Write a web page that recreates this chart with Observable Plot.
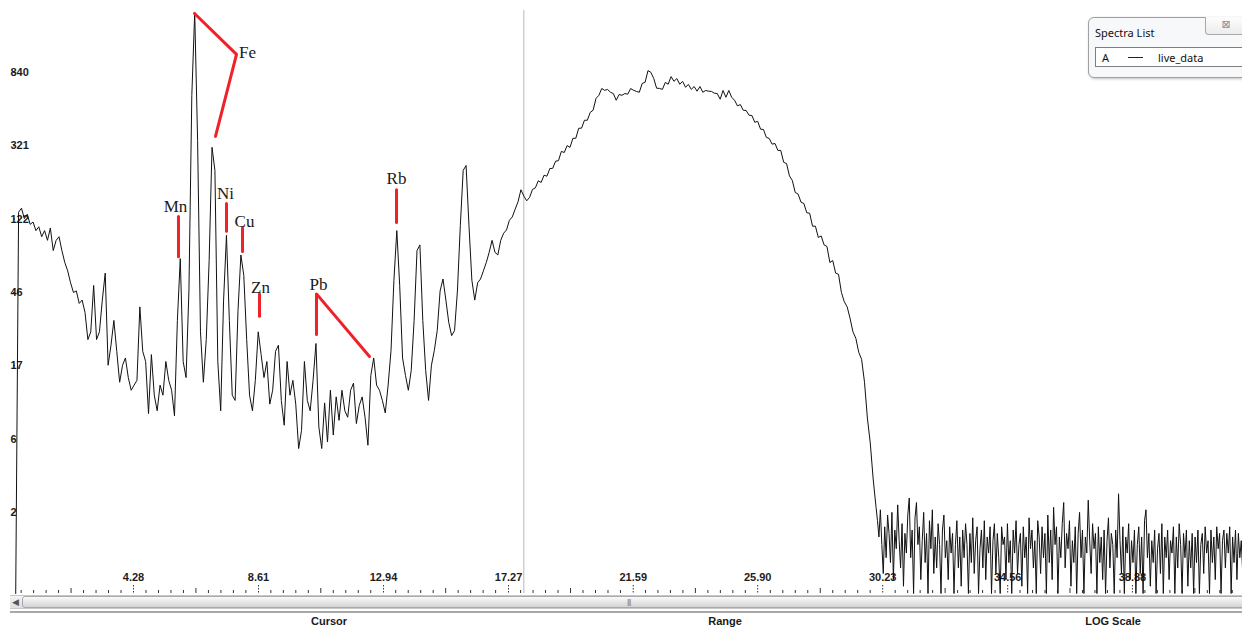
<!DOCTYPE html>
<html>
<head>
<meta charset="utf-8">
<script src="https://cdn.jsdelivr.net/npm/d3@7"></script>
<script src="https://cdn.jsdelivr.net/npm/@observablehq/plot@0.6"></script>
<style>
html,body{margin:0;padding:0;background:#fff;width:1242px;height:628px;overflow:hidden;position:relative;font-family:"Liberation Sans",Arial,sans-serif;}
#chart{position:absolute;left:0;top:0;}
#sbtrack{position:absolute;left:10px;top:595px;width:1232px;height:14px;background:linear-gradient(#f4f4f4,#dedede);border-top:1px solid #c8c8c8;border-bottom:1px solid #c8c8c8;box-sizing:border-box;}
#sbarrow{position:absolute;left:12px;top:596px;font-size:9px;color:#555;line-height:12px;}
#sbthumb{position:absolute;left:22px;top:596px;width:1230px;height:12px;box-sizing:border-box;border:1px solid #a9a9a9;border-radius:3px;background:linear-gradient(#fbfbfb,#e6e6e6 50%,#d4d4d4);}
#sbgrip{position:absolute;left:627px;top:596px;font-size:8px;color:#777;line-height:12px;letter-spacing:-1px;}
#sbline{position:absolute;left:10px;top:611px;width:1232px;height:2px;background:#a8a8a8;}
.status{position:absolute;top:615px;font-weight:bold;font-size:11px;color:#1a1a1a;transform:translateX(-50%);white-space:nowrap;}
#spl{position:absolute;left:1088px;top:17px;width:172px;height:59px;border:1px solid #a0a0a0;border-radius:6px;background:#f7f8fa;box-shadow:1px 1px 3px rgba(0,0,0,0.25);font-family:"Noto Sans",sans-serif;}
#spltitle{position:absolute;left:6px;top:7px;font-size:11px;color:#111;}
#splclose{position:absolute;left:116px;top:-1px;width:40px;height:17px;border:1px solid #a8a8a8;border-top:none;border-radius:0 0 4px 4px;background:linear-gradient(#fdfdfd,#ececec);font-family:"DejaVu Sans",sans-serif;font-size:11px;color:#8a8a8a;text-align:center;line-height:16px;}
#spllist{position:absolute;left:6px;top:29px;width:170px;height:20px;background:#fff;border:1px solid #7e7e7e;box-sizing:border-box;font-size:11px;color:#111;}
#spllist .a{position:absolute;left:6px;top:2px;}
#spllist .dash{position:absolute;left:32px;top:9px;width:15px;height:1px;background:#222;}
#spllist .n{position:absolute;left:62px;top:2px;}
</style>
</head>
<body>
<div id="chart"></div>
<div id="sbtrack"></div>
<div id="sbthumb"></div>
<div id="sbarrow">&#9664;</div>
<div id="sbgrip">|||</div>
<div id="sbline"></div>
<div class="status" style="left:329px">Cursor</div>
<div class="status" style="left:725px">Range</div>
<div class="status" style="left:1113px">LOG Scale</div>
<div id="spl">
  <div id="spltitle">Spectra List</div>
  <div id="splclose">&#8864;</div>
  <div id="spllist"><span class="a">A</span><span class="dash"></span><span class="n">live_data</span></div>
</div>
<script>
// channel calibration (keV), coarse part 0.2 – 30.0 keV
const energyStart = 0.2;
const energyStep = 0.1;

// counts per channel (0.2 – 30.0 keV)
const counts = [
  0, 148, 156, 136, 144, 126, 130, 116,
  122, 107, 116, 102, 120, 89, 102, 107, 89, 76,
  68, 58, 51, 52, 44, 46, 39, 27, 30, 56,
  27, 30, 46, 66, 19, 25, 35, 23, 15, 19,
  21, 16, 13.4, 14.4, 15.4, 42, 23, 20, 9.6, 22,
  12.5, 10, 14.4, 12.5, 20, 15.4, 13.4, 9.3, 35, 80,
  20, 16, 52, 689, 2048, 381, 30, 15, 27, 78,
  348, 257, 20, 10, 46, 109, 35, 12.5, 11.6, 40,
  84, 64, 27, 12.5, 10, 15.4, 30, 22, 16, 20,
  11, 13.4, 23, 25, 11.6, 8.1, 20, 12.5, 15.4, 11,
  5.7, 7.5, 20, 11.6, 10, 15.4, 25.6, 7.9, 5.7, 11.2,
  6.3, 13.4, 7, 12.2, 8.7, 13.4, 10, 9.1, 13.4, 14.8,
  8.3, 10.8, 12.2, 9.1, 6.0, 16.5, 21, 14.4, 13.4, 11.6,
  9.7, 14.4, 23.3, 60, 116, 56, 21, 16.5, 13.4, 17.7,
  35, 89, 96, 35, 17.7, 11.6, 19, 23.3, 30.5, 52,
  61, 46, 34, 28.5, 30.5, 52, 124, 257, 274, 124,
  60, 46, 58, 61, 68, 76, 87, 102, 87, 84,
  102, 112, 117, 133, 139, 154, 170, 199, 183, 172,
  180, 200, 204, 224, 219, 241, 238, 263, 264, 290,
  292, 330, 325, 356, 348, 392, 392, 447, 448, 497,
  497, 551, 567, 662, 690, 755, 736, 745, 718, 706,
  646, 697, 690, 706, 700, 754, 737, 726, 718, 806,
  818, 954, 933, 860, 757, 755, 746, 817, 798, 882,
  829, 860, 798, 828, 767, 796, 746, 774, 728, 774,
  718, 735, 728, 726, 709, 706, 655, 735, 672, 735,
  672, 646, 600, 611, 567, 565, 531, 529, 484, 490,
  442, 440, 397, 391, 363, 366, 334, 334, 286, 281,
  239, 225, 192, 188, 169, 166, 147, 146, 123, 123,
  106, 108, 96, 94, 76, 78, 66, 65, 51, 45,
  42, 36, 30, 27.5, 22.7, 20.6, 15, 9, 6.2, 3.5,
  2.1
];

// fine part 30.05 – 42.70 keV, background noise above the cut-off
const tailStart = 30.05;
const tailStep = 0.05;
const tailCounts = [
  1.6, 1.1, 2.0, 0.9, 0.3, 1.4, 0.6, 1.8, 1.2, 0.5, 1.9, 0.2, 1.3, 0.8, 2.2, 1.0, 0.4, 1.5, 0.1, 1.2,
  0.7, 1.8, 2.5, 0.6, 1.3, 0.0, 1.7, 2.3, 0.9, 1.4, 0.2, 1.0, 1.9, 0.5, 1.2, 0.0, 1.6, 0.8, 2.0, 0.3,
  1.1, 0.4, 1.5, 0.9, 0.0, 1.3, 1.8, 0.6, 1.0, 0.2, 1.4, 0.7, 1.2, 0.0, 0.9, 1.6, 0.4, 1.1, 0.1, 1.3,
  0.6, 1.5, 0.9, 0.0, 1.2, 0.5, 1.7, 0.3, 1.0, 1.4, 0.0, 0.8, 1.3, 0.4, 1.6, 0.2, 1.1, 0.7, 1.4, 0.0,
  1.0, 1.5, 0.3, 1.2, 0.6, 0.0, 1.4, 0.9, 1.1, 0.2, 1.5, 0.5, 1.0, 0.0, 1.3, 0.7, 1.6, 0.3, 0.9, 1.2,
  0.1, 1.4, 0.6, 1.1, 0.0, 1.7, 0.8, 1.3, 0.4, 1.0, 0.0, 1.6, 1.1, 0.3, 1.4, 0.6, 1.2, 0.0, 1.8, 0.5,
  1.3, 0.2, 2.1, 0.9, 1.4, 0.0, 1.1, 0.6, 1.5, 2.3, 0.4, 1.2, 0.8, 1.6, 0.1, 1.0, 0.5, 1.4, 0.0, 1.2,
  1.9, 0.6, 1.3, 0.0, 1.1, 0.7, 2.4, 1.0, 0.3, 1.5, 0.8, 1.2, 0.0, 1.4, 0.5, 1.1, 0.2, 1.3, 0.0, 1.0,
  1.7, 0.4, 1.2, 0.9, 0.0, 1.3, 0.6, 2.7, 1.0, 0.3, 1.4, 0.0, 1.1, 0.7, 1.5, 0.2, 1.0, 0.5, 1.3, 0.0,
  0.9, 1.4, 0.3, 1.1, 0.0, 1.6, 2.0, 0.6, 1.2, 0.1, 1.0, 0.5, 1.3, 0.0, 0.8, 1.2, 0.3, 1.5, 0.0, 1.1,
  0.6, 1.3, 0.2, 1.0, 0.7, 1.4, 0.0, 1.1, 0.4, 1.5, 0.9, 0.0, 1.2, 0.6, 1.3, 0.1, 1.0, 0.4, 1.2, 0.0,
  1.1, 0.5, 1.3, 0.0, 0.9, 1.2, 0.3, 1.4, 0.7, 1.0, 0.0, 1.3, 0.5, 1.1, 0.2, 1.4, 0.8, 1.2, 0.0, 1.0,
  1.3, 0.4, 1.2, 0.7, 1.4, 0.0, 1.1, 0.5, 1.3, 0.2, 1.2, 0.6, 1.0, 0.3
];

// axis ticks
const xTickValues = [4.28, 8.61, 12.94, 17.27, 21.59, 25.90, 30.23, 34.56, 38.88];
const xTickLabels = ["4.28", "8.61", "12.94", "17.27", "21.59", "25.90", "30.23", "34.56", "38.88"];
const yTickValues = [839, 320, 121.6, 45.8, 16.9, 5.84, 1.61];
const yTickLabels = ["840", "321", "122", "46", "17", "6", "2"];

// cursor position (keV)
const cursorEnergy = [17.8];

// peak labels
const peakNames  = ["Fe", "Mn", "Ni", "Cu", "Zn", "Pb", "Rb"];
const peakLabelE = [8.229, 5.735, 7.467, 8.125, 8.679, 10.688, 13.39];
const peakLabelC = [1211, 159, 189, 131, 54.5, 56.7, 231];

// red leader lines
const leaderGroup  = ["Fe", "Fe", "Fe", "Mn", "Mn", "Ni", "Ni", "Cu", "Cu", "Zn", "Zn", "Pb", "Pb", "Pb", "Rb", "Rb"];
const leaderEnergy = [6.393, 7.848, 7.120, 5.838, 5.838, 7.501, 7.501, 8.055, 8.055, 8.644, 8.644, 10.618, 10.618, 12.454, 13.39, 13.39];
const leaderCounts = [2021, 1180, 402, 140, 82, 166, 115, 120, 88, 50, 37, 28.9, 50, 21.4, 199, 129];

const spectrum = counts.map((c, i) => ({energy: energyStart + i * energyStep, counts: c}))
  .concat(tailCounts.map((c, i) => ({energy: tailStart + i * tailStep, counts: c})));
const leaders = leaderGroup.map((g, i) => ({group: g, energy: leaderEnergy[i], counts: leaderCounts[i]}));
const peakLabels = peakNames.map((n, i) => ({name: n, energy: peakLabelE[i], counts: peakLabelC[i]}));

const minorStep = (xTickValues[xTickValues.length - 1] - xTickValues[0]) / (xTickValues.length - 1) / 10;
const minorK = d3.range(-9, 90).filter(k => k % 10 !== 0);
const minorTicks = minorK.filter(k => Math.abs(k % 10) !== 5).map(k => xTickValues[0] + k * minorStep);
const midTicks = minorK.filter(k => Math.abs(k % 10) === 5).map(k => xTickValues[0] + k * minorStep);

const yLabelOf = new Map(yTickValues.map((v, i) => [v, yTickLabels[i]]));

const chart = Plot.plot({
  width: 1242,
  height: 596,
  marginLeft: 14,
  marginRight: 0,
  marginTop: 0,
  marginBottom: 3,
  style: {background: "transparent", fontFamily: "Liberation Sans, Arial, sans-serif", overflow: "visible"},
  x: {domain: [0.158, 42.693], axis: null},
  y: {type: "symlog", constant: 1, domain: [0, 2396], label: null},
  marks: [
    Plot.ruleX(cursorEnergy, {stroke: "#b8b8b8", strokeWidth: 1, insetTop: 10}),
    Plot.tickX(minorTicks.filter(d => d > 0.3 && d < 42.6), {x: d => d, stroke: "#333", insetTop: 590}),
    Plot.tickX(midTicks.filter(d => d > 0.3 && d < 42.6), {x: d => d, stroke: "#333", insetTop: 588}),
    Plot.tickX(xTickValues, {x: d => d, stroke: "#333", strokeDasharray: "1.5,1.5", insetTop: 585}),
    Plot.text(xTickValues, {x: d => d, frameAnchor: "bottom", dy: -13, text: (d, i) => xTickLabels[i], fontWeight: "bold", fontSize: 11, fill: "#1d1d1d"}),
    Plot.axisY(yTickValues, {anchor: "left", tickSize: 2, tickPadding: 3, tickFormat: d => yLabelOf.get(d), textAnchor: "start", dx: 1, dy: -8, fontWeight: "bold", fontSize: 11, fill: "#1d1d1d", stroke: "#333", label: null}),
    Plot.line(spectrum, {x: "energy", y: "counts", stroke: "#111", strokeWidth: 1}),
    Plot.line(leaders, {x: "energy", y: "counts", z: "group", stroke: "#ee2229", strokeWidth: 3}),
    Plot.text(peakLabels, {x: "energy", y: "counts", text: "name", fontFamily: "Liberation Serif, Times New Roman, serif", fontSize: 17, fill: "#1a1a1a"})
  ]
});
document.getElementById("chart").appendChild(chart);
</script>
</body>
</html>
